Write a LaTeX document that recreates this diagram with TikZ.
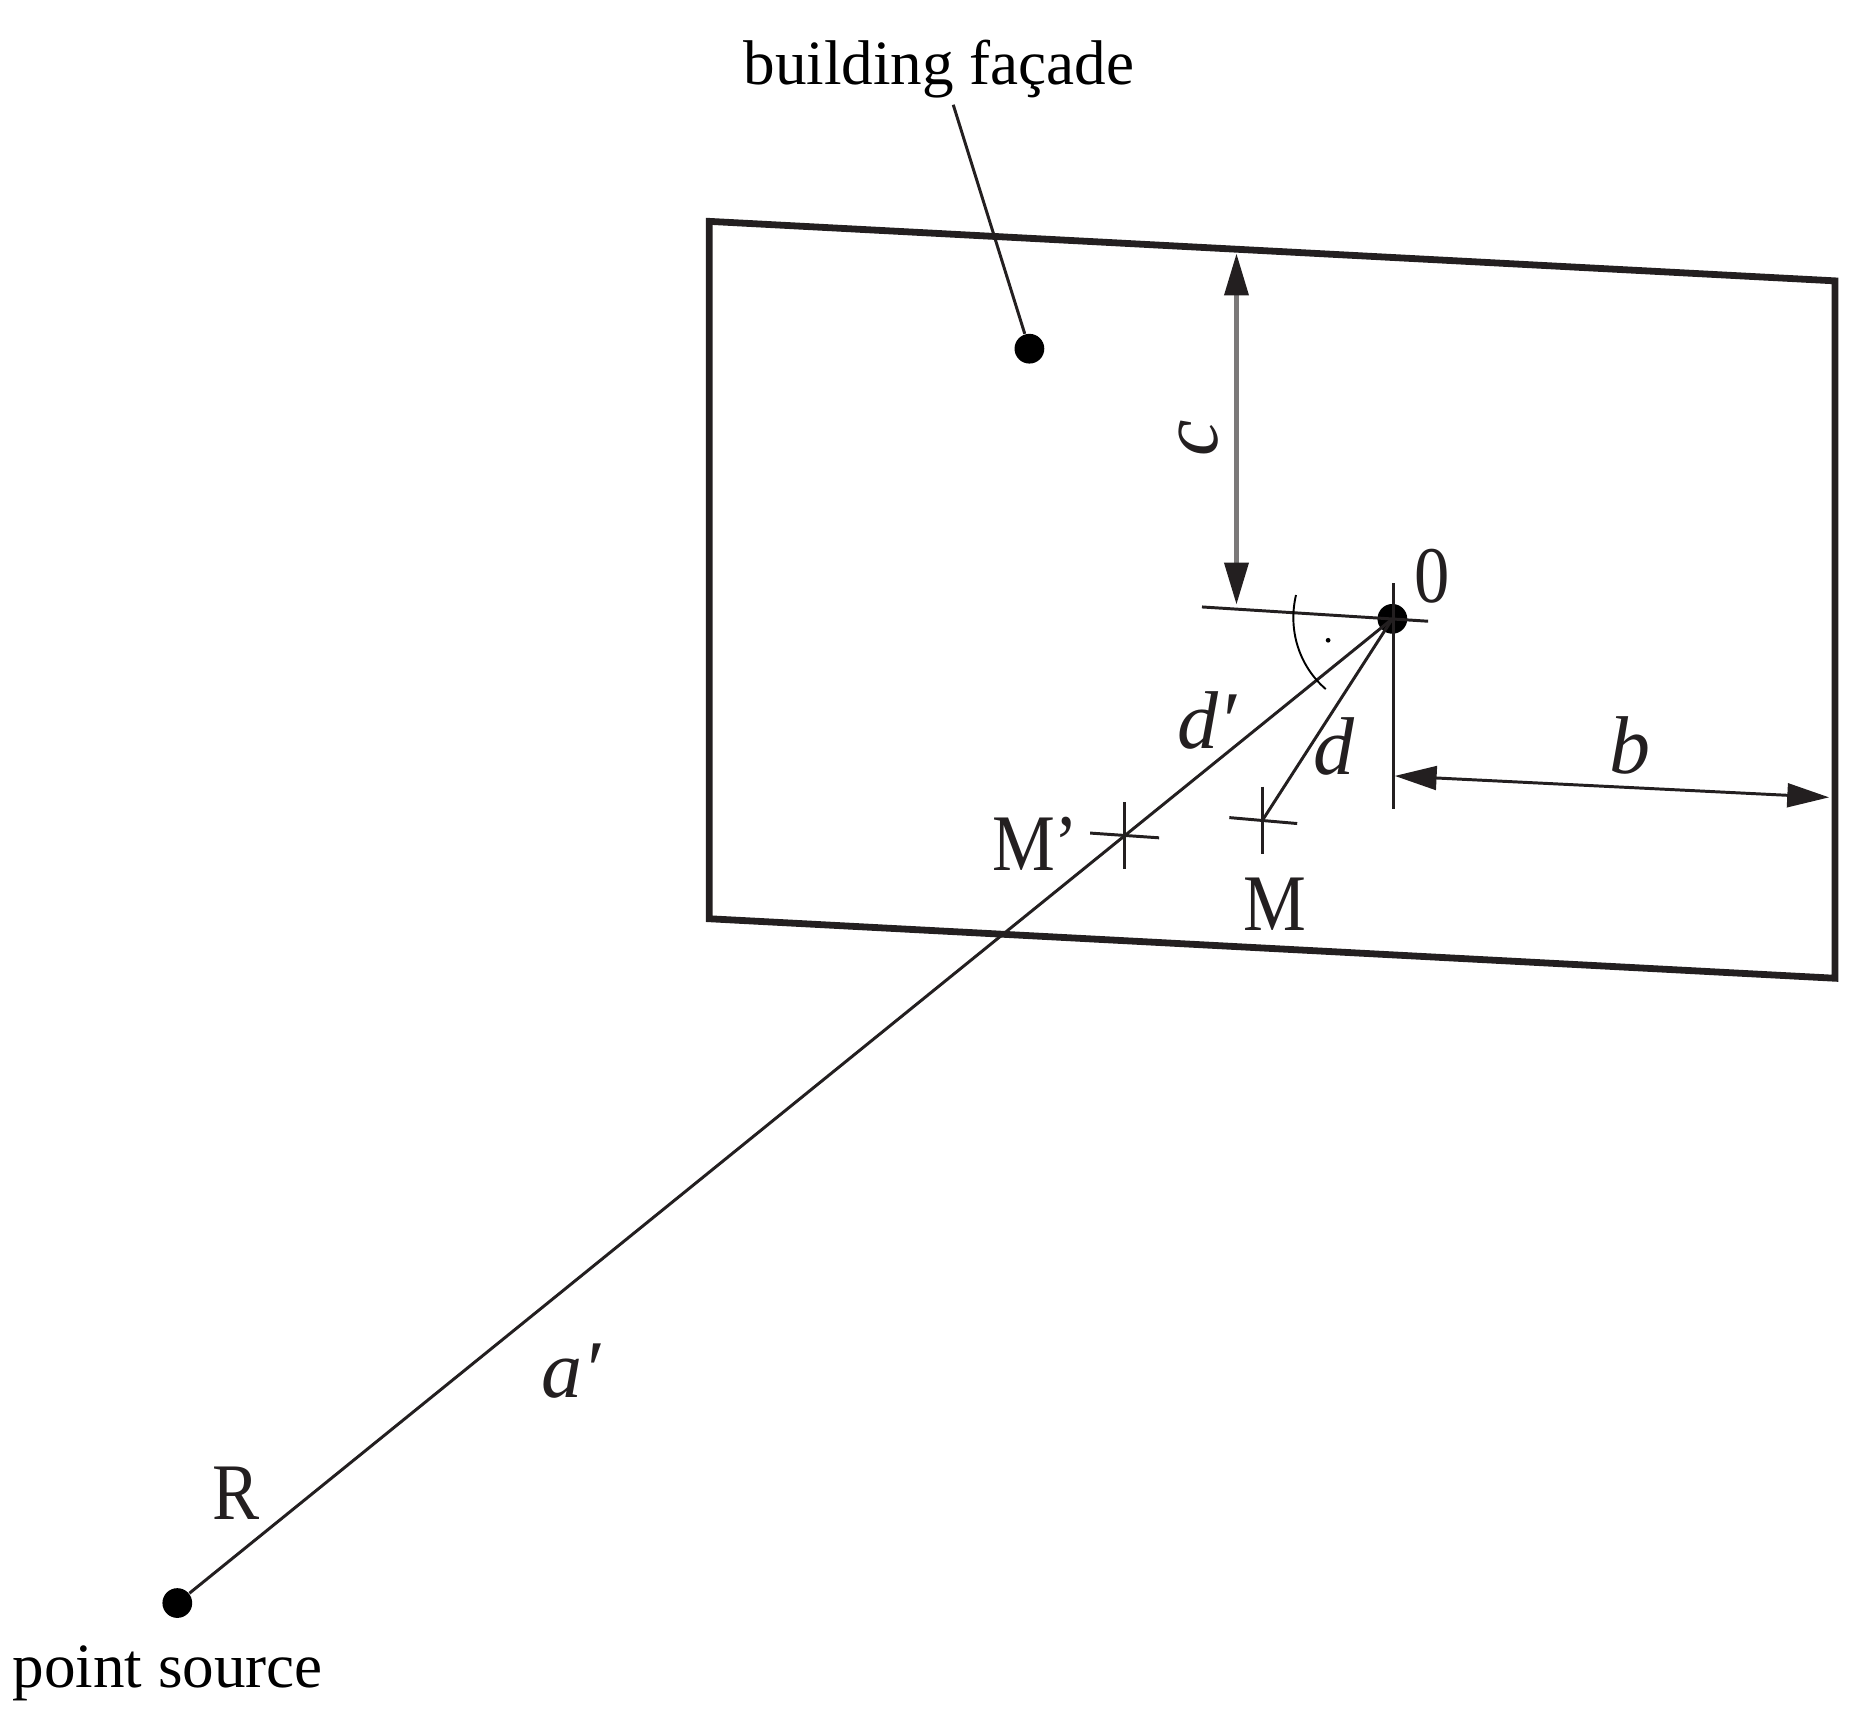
\documentclass[tikz,border=0pt]{standalone}
\usepackage{fontspec}
\setmainfont{Liberation Serif}
\newfontfamily\narrowserif[FakeStretch=0.88]{Liberation Serif}
\usetikzlibrary{arrows.meta}
\definecolor{ink}{HTML}{231F20}
\tikzset{
  wall/.style={draw=ink,line width=1.95pt,line join=miter},
  thinline/.style={draw=ink,line width=0.85pt},
  hairline/.style={draw=black,line width=0.55pt},
  blackdot/.style={circle,fill=black,inner sep=0pt,minimum size=25*0.012cm},
  tinydot/.style={circle,fill=black,inner sep=0pt,minimum size=4*0.012cm},
  dimtips/.style={{Triangle[length=12pt,width=6.8pt,color=ink]}-{Triangle[length=12pt,width=6.8pt,color=ink]}},
  caption/.style={font=\fontsize{18.1}{20}\selectfont,text=black,inner sep=0pt},
  letter/.style={font=\narrowserif\fontsize{23}{25}\selectfont,text=ink,inner sep=0pt},
  var/.style={font=\fontsize{23.5}{25}\selectfont\itshape,text=ink,inner sep=0pt}
}
\begin{document}
\begin{tikzpicture}[x=0.012cm,y=-0.012cm]
\useasboundingbox (0,0) rectangle (1568,1453.7);
% facade corners
\coordinate (tl) at (596,186);
\coordinate (tr) at (1542,236);
\coordinate (br) at (1542,822);
\coordinate (bl) at (596,772);
% dots
\node[blackdot] (fdot) at (865,293) {};
\node[blackdot] (odot) at (1170,520) {};
\node[blackdot] (rdot) at (149,1347) {};
\node[tinydot] (adot) at (1116,538) {};
% helper points
\coordinate (lead) at (801,88);
\coordinate (ctop) at (1039,213);
\coordinate (cbot) at (1039,508);
\coordinate (hl) at (1010,510);
\coordinate (hr) at (1200,522);
\coordinate (vt) at (1171,490);
\coordinate (vb) at (1171,680);
\coordinate (bl1) at (1172,652);
\coordinate (br1) at (1537,670);
\coordinate (mpl) at (916,700);
\coordinate (mpr) at (974,704);
\coordinate (mpt) at (945,674);
\coordinate (mpb) at (945,730);
\coordinate (m) at (1061,689);
\coordinate (ml) at (1033,687);
\coordinate (mr) at (1090,692);
\coordinate (mt) at (1061,661);
\coordinate (mb) at (1061,718);
\coordinate (a1) at (1089,500);
\coordinate (a2) at (1114,579);
% facade
\draw[wall] (tl) -- (tr) -- (br) -- (bl) -- cycle;
% leader
\draw[thinline] (lead) -- (fdot);
% dimensions
\draw[dimtips,draw=ink!60,line width=1.3pt] (ctop) -- (cbot);
\draw[thinline] (hl) -- (hr);
\draw[thinline,line width=1pt] (vt) -- (vb);
\draw[dimtips,thinline] (bl1) -- (br1);
% rays
\draw[thinline] (odot.center) -- (rdot);
\draw[thinline] (odot.center) -- (m);
% crosses
\draw[thinline] (mpl) -- (mpr);
\draw[thinline] (mpt) -- (mpb);
\draw[thinline] (ml) -- (mr);
\draw[thinline] (mt) -- (mb);
% angle arc
\draw[hairline] (a1) .. controls (1082,530) and (1092,560) .. (a2);
% labels
\node[caption] (facade) at (789,58) {building façade};
\node[caption] (source) at (141,1406) {point source};
\node[letter] (zero) at (1203,484) {0};
\node[letter] (lm) at (1071,760) {M};
\node[letter] (lmp) at (870,709) {M’};
\node[letter] (lr) at (198,1255) {R};
\node[var] (lb) at (1370,626) {b};
\node[var,rotate=90] (lc) at (1007,368) {c};
\node[var] (ld) at (1121,627) {d};
\node[var] (ldp) at (1014,605) {d′};
\node[var] (la) at (480,1152) {a′};
\end{tikzpicture}
\end{document}
